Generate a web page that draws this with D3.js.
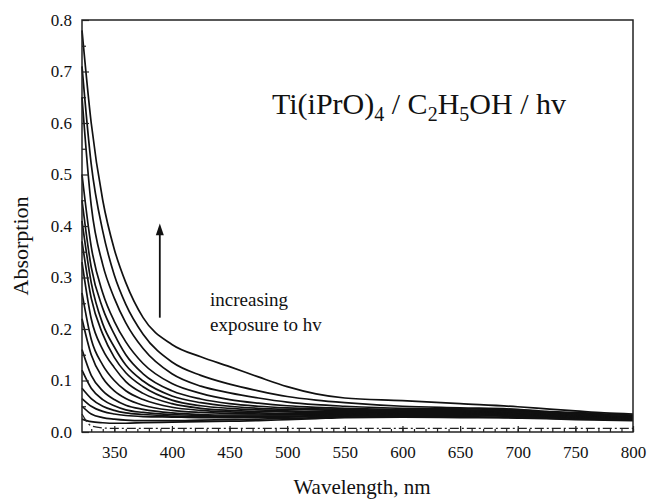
<!DOCTYPE html>
<html><head><meta charset="utf-8">
<script src="https://cdn.jsdelivr.net/npm/d3@7"></script>
<style>body{margin:0;background:#fff}svg{display:block}text{font-family:"Liberation Serif","Times New Roman",serif;fill:#111}</style>
</head><body>
<svg id="c" width="654" height="499"></svg>
<script>
const wavelengths = [322, 330, 340, 350, 360, 375, 400, 425, 450, 475, 500, 525, 550, 600, 650, 700, 725, 750, 775, 800];
const c1  = [0.78, 0.60, 0.45, 0.355, 0.29, 0.222, 0.170, 0.146, 0.127, 0.107, 0.088, 0.074, 0.066, 0.061, 0.055, 0.049, 0.045, 0.041, 0.037, 0.035];
const c2  = [0.71, 0.52, 0.39, 0.305, 0.248, 0.190, 0.136, 0.110, 0.093, 0.080, 0.069, 0.062, 0.057, 0.050, 0.047, 0.044, 0.040, 0.038, 0.035, 0.033];
const c3  = [0.65, 0.44, 0.325, 0.26, 0.212, 0.162, 0.113, 0.089, 0.076, 0.066, 0.058, 0.053, 0.050, 0.046, 0.045, 0.043, 0.039, 0.036, 0.034, 0.032];
const c4  = [0.50, 0.36, 0.27, 0.215, 0.175, 0.133, 0.094, 0.075, 0.063, 0.056, 0.051, 0.048, 0.046, 0.044, 0.043, 0.041, 0.038, 0.036, 0.032, 0.031];
const c5  = [0.45, 0.32, 0.24, 0.19, 0.15, 0.113, 0.080, 0.064, 0.055, 0.050, 0.047, 0.045, 0.044, 0.042, 0.042, 0.040, 0.037, 0.034, 0.032, 0.030];
const c6  = [0.41, 0.29, 0.21, 0.165, 0.13, 0.099, 0.070, 0.057, 0.050, 0.046, 0.044, 0.043, 0.042, 0.041, 0.040, 0.039, 0.035, 0.034, 0.030, 0.029];
const c7  = [0.37, 0.26, 0.19, 0.145, 0.115, 0.088, 0.062, 0.051, 0.046, 0.043, 0.041, 0.040, 0.040, 0.039, 0.039, 0.038, 0.035, 0.032, 0.030, 0.028];
const c8  = [0.33, 0.22, 0.16, 0.125, 0.098, 0.075, 0.055, 0.046, 0.042, 0.040, 0.039, 0.038, 0.038, 0.038, 0.038, 0.036, 0.034, 0.031, 0.029, 0.027];
const c9  = [0.27, 0.18, 0.13, 0.10, 0.080, 0.063, 0.048, 0.042, 0.039, 0.037, 0.036, 0.036, 0.036, 0.037, 0.037, 0.035, 0.033, 0.030, 0.028, 0.027];
const c10 = [0.22, 0.15, 0.105, 0.080, 0.065, 0.052, 0.042, 0.038, 0.036, 0.035, 0.034, 0.034, 0.035, 0.036, 0.036, 0.034, 0.032, 0.029, 0.028, 0.026];
const c11 = [0.16, 0.11, 0.080, 0.063, 0.052, 0.044, 0.037, 0.034, 0.033, 0.033, 0.033, 0.033, 0.034, 0.035, 0.035, 0.033, 0.031, 0.029, 0.027, 0.026];
const c12 = [0.12, 0.085, 0.063, 0.051, 0.043, 0.038, 0.034, 0.032, 0.031, 0.031, 0.031, 0.032, 0.033, 0.034, 0.034, 0.032, 0.030, 0.028, 0.026, 0.025];
const c13 = [0.085, 0.065, 0.050, 0.042, 0.037, 0.034, 0.031, 0.030, 0.030, 0.030, 0.030, 0.031, 0.032, 0.033, 0.033, 0.031, 0.029, 0.027, 0.026, 0.025];
const c14 = [0.065, 0.050, 0.040, 0.035, 0.032, 0.030, 0.029, 0.028, 0.028, 0.029, 0.029, 0.030, 0.031, 0.032, 0.032, 0.030, 0.028, 0.026, 0.025, 0.024];
const c15 = [0.050, 0.035, 0.028, 0.025, 0.023, 0.022, 0.022, 0.023, 0.024, 0.025, 0.026, 0.028, 0.029, 0.030, 0.030, 0.028, 0.027, 0.025, 0.024, 0.023];
const c16 = [0.025, 0.020, 0.018, 0.017, 0.017, 0.018, 0.019, 0.020, 0.021, 0.022, 0.024, 0.026, 0.028, 0.029, 0.028, 0.027, 0.026, 0.024, 0.023, 0.022];
const baseline = [0.035, 0.012, 0.008, 0.007, 0.007, 0.007, 0.007, 0.007, 0.007, 0.007, 0.007, 0.007, 0.007, 0.007, 0.007, 0.007, 0.007, 0.007, 0.007, 0.007];
const solidSeries = [c1, c2, c3, c4, c5, c6, c7, c8, c9, c10, c11, c12, c13, c14, c15, c16];
const xTicks = [350, 400, 450, 500, 550, 600, 650, 700, 750, 800];
const yTicks = [0.0, 0.1, 0.2, 0.3, 0.4, 0.5, 0.6, 0.7, 0.8];

const svg = d3.select("#c");
const L = 82, R = 633, T = 20, B = 432;
const x = d3.scaleLinear().domain([322, 800]).range([L, R]);
const y = d3.scaleLinear().domain([0, 0.8]).range([B, T]);

const plot = svg.append("g");
const line = d3.line().x((d, i) => x(wavelengths[i])).y(d => y(d)).curve(d3.curveMonotoneX);
plot.selectAll("path.s").data(solidSeries).join("path").attr("class", "s")
  .attr("d", line).attr("fill", "none").attr("stroke", "#111").attr("stroke-width", 1.7);
plot.append("path").attr("d", line(baseline)).attr("fill", "none").attr("stroke", "#222")
  .attr("stroke-width", 1.3).attr("stroke-dasharray", "9,3,2,3");

// frame
svg.append("rect").attr("x", L).attr("y", T).attr("width", R - L).attr("height", B - T)
  .attr("fill", "none").attr("stroke", "#222").attr("stroke-width", 1.5);

// axes (ticks inside)
const xMinor = d3.range(330, 801, 10);
svg.append("g").attr("transform", `translate(0,${B})`)
  .call(d3.axisTop(x).tickValues(xMinor).tickSize(3).tickFormat(""))
  .call(g => g.select(".domain").remove());
svg.append("g").attr("transform", `translate(0,${B})`)
  .call(d3.axisTop(x).tickValues(xTicks).tickSize(6).tickFormat(""))
  .call(g => g.select(".domain").remove());
svg.append("g").attr("transform", `translate(0,${B})`)
  .call(d3.axisBottom(x).tickValues(xTicks).tickSize(0).tickPadding(14).tickFormat(d3.format("d")))
  .call(g => g.select(".domain").remove())
  .selectAll("text").attr("font-size", 17).style("font-family", '"Liberation Serif",serif');

const yMinor = d3.range(0.05, 0.8, 0.1);
svg.append("g").attr("transform", `translate(${L},0)`)
  .call(d3.axisRight(y).tickValues(yMinor).tickSize(4).tickFormat(""))
  .call(g => g.select(".domain").remove());
svg.append("g").attr("transform", `translate(${L},0)`)
  .call(d3.axisRight(y).tickValues(yTicks).tickSize(7).tickFormat(""))
  .call(g => g.select(".domain").remove());
svg.append("g").attr("transform", `translate(${L},0)`)
  .call(d3.axisLeft(y).tickValues(yTicks).tickSize(0).tickPadding(10).tickFormat(d3.format(".1f")))
  .call(g => g.select(".domain").remove())
  .selectAll("text").attr("font-size", 17).style("font-family", '"Liberation Serif",serif');
svg.selectAll(".tick line").attr("stroke", "#222").attr("stroke-width", 1.2);

// axis titles
svg.append("text").attr("x", 362).attr("y", 494).attr("text-anchor", "middle").attr("font-size", 21).text("Wavelength, nm");
svg.append("text").attr("transform", "translate(28,246) rotate(-90)").attr("text-anchor", "middle").attr("font-size", 22).text("Absorption");

// title inside plot
const t = svg.append("text").attr("x", 272).attr("y", 114).attr("font-size", 30);
t.append("tspan").text("Ti(iPrO)");
t.append("tspan").attr("font-size", 20).attr("dy", 7).text("4");
t.append("tspan").attr("dy", -7).text(" / C");
t.append("tspan").attr("font-size", 20).attr("dy", 7).text("2");
t.append("tspan").attr("dy", -7).text("H");
t.append("tspan").attr("font-size", 20).attr("dy", 7).text("5");
t.append("tspan").attr("dy", -7).text("OH / hv");

// annotation arrow
const ax = x(389.5);
svg.append("line").attr("x1", ax).attr("x2", ax).attr("y1", y(0.222)).attr("y2", y(0.39))
  .attr("stroke", "#111").attr("stroke-width", 1.8);
svg.append("path").attr("d", d3.line()([[ax - 4, y(0.382)], [ax, y(0.405)], [ax + 4, y(0.382)]]))
  .attr("fill", "#111");
svg.append("text").attr("x", 210).attr("y", 306).attr("font-size", 19).text("increasing");
svg.append("text").attr("x", 210).attr("y", 331).attr("font-size", 19).text("exposure to hv");
</script>
</body></html>
